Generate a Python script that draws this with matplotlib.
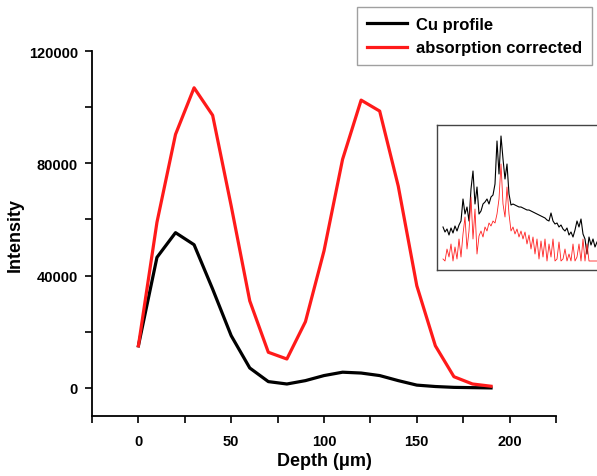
import matplotlib
matplotlib.use("Agg")
import matplotlib.pyplot as plt
import numpy as np

plt.rcParams['font.family'] = ['Liberation Sans', 'DejaVu Sans']
plt.rcParams['font.weight'] = 'bold'

# Main data
depth = [0, 10, 20, 30, 40, 50, 60, 70, 80, 90, 100, 110, 120, 130, 140, 150, 160, 170, 180, 190]
cu_profile = [15000, 46500, 55300, 51000, 35200, 18600, 7100, 2250, 1400, 2600,
              4400, 5600, 5300, 4400, 2600, 1000, 500, 200, 100, 0]
absorption_corrected = [15000, 59000, 90300, 106900, 97100, 64800, 31000, 12700, 10300, 23600,
                        48800, 81400, 102500, 98600, 71900, 36400, 15000, 4000, 1400, 600]

# Inset spectra (arbitrary units)
inset_x = list(range(0, 156, 2))
inset_black = [34, 29, 32, 26, 33, 28, 35, 30, 36, 40, 62, 47, 54, 40, 72, 90, 57, 74, 47, 50,
               57, 59, 62, 57, 64, 66, 77, 120, 87, 125, 102, 82, 97, 67, 56, 57, 56, 55, 54, 54,
               53, 52, 51, 51, 50, 49, 48, 47, 46, 45, 44, 43, 41, 40, 48, 40, 37, 38, 34, 36,
               32, 30, 33, 26, 29, 24, 31, 40, 34, 42, 27, 22, 7, 24, 16, 22, 14, 19]
inset_red = [2, 0, 12, 4, 17, 0, 14, 2, 22, 4, 27, 44, 12, 30, 64, 22, 52, 7, 25, 30,
             24, 34, 30, 38, 35, 40, 38, 47, 62, 97, 57, 44, 74, 47, 30, 34, 27, 32, 24, 30,
             22, 29, 17, 26, 12, 24, 7, 22, 2, 20, 4, 22, 0, 17, 4, 22, 0, 2, 19, 0,
             2, 12, 0, 7, 0, 17, 0, 4, 17, 0, 22, 0, 17, 0, 0, 0, 0, 0]

W, H = 597, 477
fig = plt.figure(figsize=(W / 100, H / 100), dpi=100)
ax = fig.add_axes([92 / W, 1 - 417 / H, (556 - 92) / W, (417 - 52) / H])

l1, = ax.plot(depth, cu_profile, color='black', lw=2.3, label='Cu profile', solid_joinstyle='round')
l2, = ax.plot(depth, absorption_corrected, color='#ff1a1a', lw=2.3, label='absorption corrected', solid_joinstyle='round')

ax.set_xlim(-25, 225)
ax.set_ylim(-10000, 120000)
ax.set_xticks([0, 50, 100, 150, 200])
ax.set_xticks(np.arange(-25, 226, 25), minor=True)
ax.set_yticks([0, 40000, 80000, 120000])
ax.set_yticks([20000, 60000, 100000], minor=True)
for s in ['top', 'right']:
    ax.spines[s].set_visible(False)
for s in ['left', 'bottom']:
    ax.spines[s].set_linewidth(1.3)
ax.tick_params(which='both', direction='out', length=5, width=1.2, labelsize=10.5)
ax.tick_params(axis='x', pad=8)
ax.tick_params(axis='y', pad=5)
ax.set_xlabel('Depth (\u03bcm)', fontsize=13, fontweight='bold', labelpad=3)
ax.set_ylabel('Intensity', fontsize=13, fontweight='bold', labelpad=4)

leg = fig.legend(handles=[l1, l2], loc='upper right', bbox_to_anchor=(592 / W, 1 - 8 / H),
                 borderaxespad=0, fontsize=12, frameon=True, fancybox=False, handlelength=2.4,
                 borderpad=0.6, labelspacing=0.5, handletextpad=0.55)
leg.get_frame().set_edgecolor('#888888')
leg.get_frame().set_linewidth(1.0)
for t in leg.get_texts():
    t.set_fontweight('bold')

# Inset
axi = fig.add_axes([437 / W, 1 - 271 / H, (600 - 437) / W, (271 - 126) / H])
axi.plot(inset_x, inset_black, color='black', lw=0.8)
axi.plot(inset_x, inset_red, color='#ff2020', lw=0.6)
axi.set_xlim(-6, 157)
axi.set_ylim(-9, 136)
axi.set_xticks([])
axi.set_yticks([])
for s in axi.spines.values():
    s.set_linewidth(1.0)
    s.set_color('#444444')

fig.savefig('out.png', dpi=100)
